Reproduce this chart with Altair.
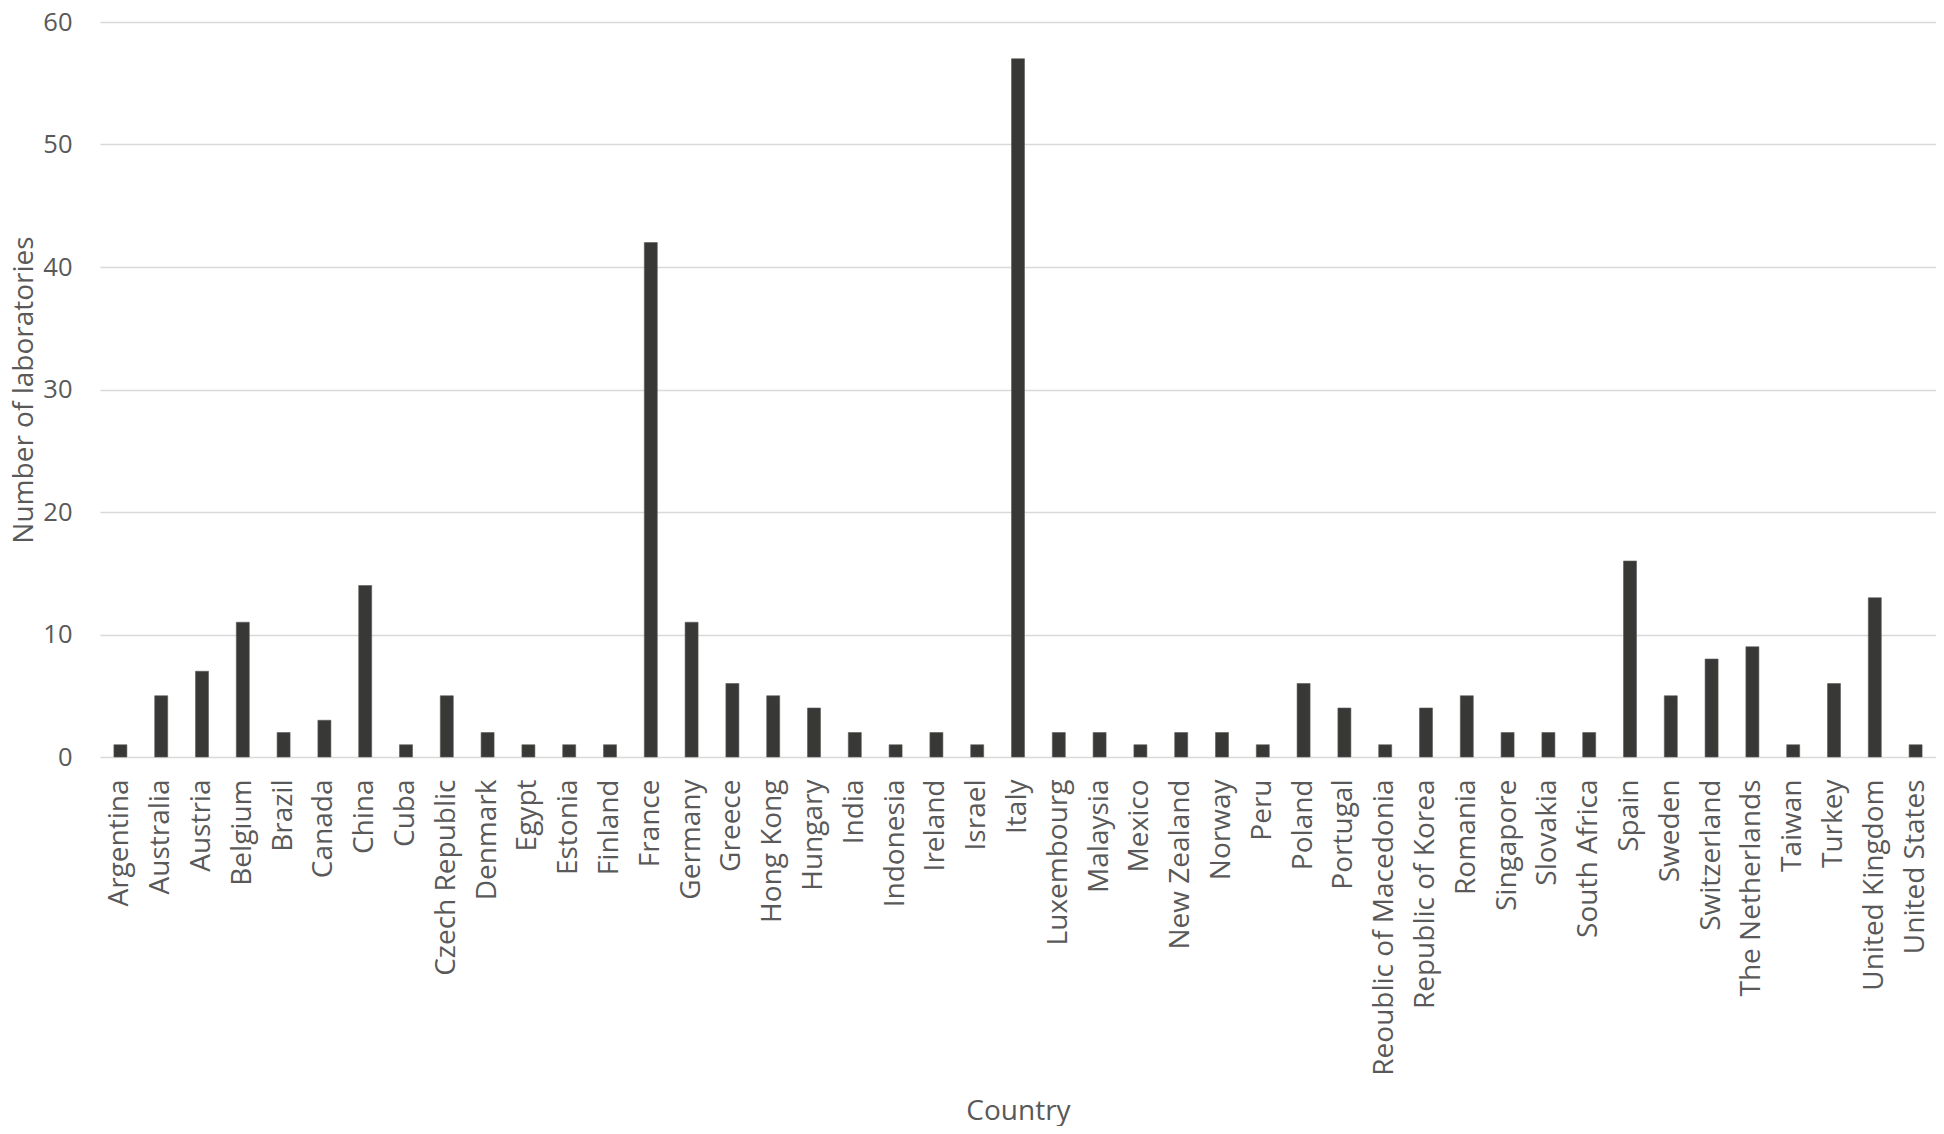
import altair as alt
import pandas as pd

countries = ["Argentina", "Australia", "Austria", "Belgium", "Brazil", "Canada", "China", "Cuba",
             "Czech Republic", "Denmark", "Egypt", "Estonia", "Finland", "France", "Germany", "Greece",
             "Hong Kong", "Hungary", "India", "Indonesia", "Ireland", "Israel", "Italy", "Luxembourg",
             "Malaysia", "Mexico", "New Zealand", "Norway", "Peru", "Poland", "Portugal",
             "Reoublic of Macedonia", "Republic of Korea", "Romania", "Singapore", "Slovakia",
             "South Africa", "Spain", "Sweden", "Switzerland", "The Netherlands", "Taiwan", "Turkey",
             "United Kingdom", "United States"]
labs = [1, 5, 7, 11, 2, 3, 14, 1, 5, 2, 1, 1, 1, 42, 11, 6, 5, 4, 2, 1, 2, 1, 57, 2, 2, 1, 2, 2, 1,
        6, 4, 1, 4, 5, 2, 2, 2, 16, 5, 8, 9, 1, 6, 13, 1]
y_ticks = [0, 10, 20, 30, 40, 50, 60]

df = pd.DataFrame({"Country": countries, "Labs": labs})

FONT = "Open Sans"
GREY = "#595959"

chart = alt.Chart(df).mark_bar(color="#383836", stroke="#5a5a58", strokeWidth=0.6, size=13).encode(
    x=alt.X("Country:N", sort=countries,
            scale=alt.Scale(paddingInner=0, paddingOuter=0),
            axis=alt.Axis(title="Country", labelAngle=-90, labelFontSize=28, labelColor=GREY,
                          labelFont=FONT, labelPadding=22, labelLimit=0, ticks=False, domain=False,
                          titleFont=FONT, titleFontSize=28, titleColor=GREY, titleFontWeight="normal",
                          titleY=362, titleBaseline="alphabetic")),
    y=alt.Y("Labs:Q", scale=alt.Scale(domain=[0, 60], nice=False),
            axis=alt.Axis(title="Number of laboratories", values=y_ticks, labelFontSize=25.5,
                          labelColor=GREY, labelFont=FONT, labelPadding=28, ticks=False, domain=False,
                          gridColor="#d9d9d9", gridWidth=1.5,
                          titleFont=FONT, titleFontSize=28, titleColor=GREY, titleFontWeight="normal",
                          titleX=-68, titleAngle=-90, titleBaseline="alphabetic",
                          titleAlign="center")),
).properties(
    width=1836, height=735,
    autosize=alt.AutoSizeParams(type="none"),
    padding={"left": 92, "top": 14, "right": 0, "bottom": 369},
).configure_view(stroke=None)

chart.save("out.html", embed_options={"renderer": "svg", "actions": False})
